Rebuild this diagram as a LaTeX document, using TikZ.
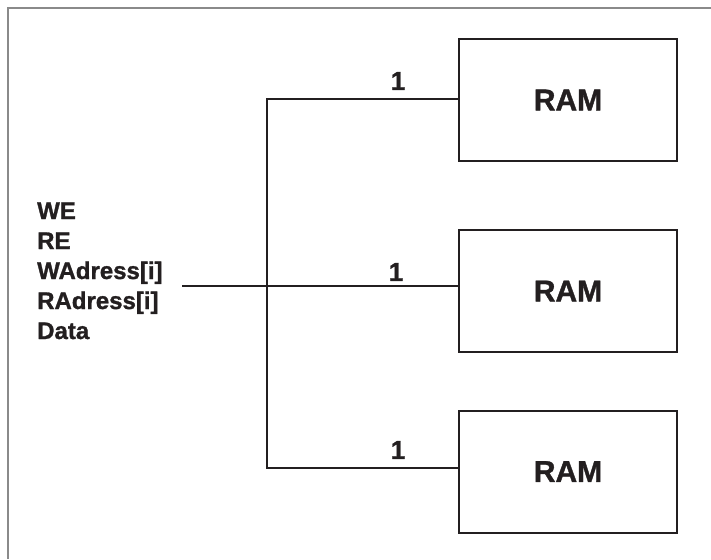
\documentclass[tikz,border=0pt]{standalone}
\usepackage{fontspec}
\setmainfont{Liberation Sans}[BoldFeatures={FakeBold=1.2}]
\definecolor{ink}{HTML}{231F20}
\definecolor{framegray}{HTML}{8A8A8A}
\begin{document}
\begin{tikzpicture}[x=1pt,y=-1pt,
  rambox/.style={draw=ink,line width=2pt,minimum width=218pt,minimum height=122pt,inner sep=0pt,
    font=\fontsize{30}{36}\selectfont\bfseries,text=ink},
  wire/.style={draw=ink,line width=2pt},
  sig/.style={anchor=base west,inner sep=0pt,font=\fontsize{24}{28}\selectfont\bfseries,text=ink},
  onelabel/.style={inner sep=0pt,font=\fontsize{26}{30}\selectfont\bfseries,text=ink}]
\useasboundingbox (0,0) rectangle (711,559);
% frame
\draw[framegray,line width=1.5pt] (8,559) -- (8,8) -- (711,8);
% RAM boxes
\node[rambox] (ram1) at (568,100) {RAM};
\node[rambox] (ram2) at (568,291) {RAM};
\node[rambox] (ram3) at (568,471.5) {RAM};
% junctions
\coordinate (j1) at (267,99);
\coordinate (j2) at (267,286);
\coordinate (j3) at (267,468);
\coordinate (in) at (182,286);
% wires
\draw[wire] (j1 -| ram1.west) -- (j1) -- (j3) -- (j3 -| ram3.west);
\draw[wire] (in) -- (in -| ram2.west);
% labels 1
\node[onelabel] (l1) at (398,81) {1};
\node[onelabel] (l2) at (396,272) {1};
\node[onelabel] (l3) at (398,450) {1};
% signal labels
\node[sig] (we) at (37,219) {WE};
\node[sig] (re) at (37,249) {RE};
\node[sig] (wa) at (37,279) {WAdress[i]};
\node[sig] (ra) at (37,309) {RAdress[i]};
\node[sig] (da) at (37,339) {Data};
\end{tikzpicture}
\end{document}
